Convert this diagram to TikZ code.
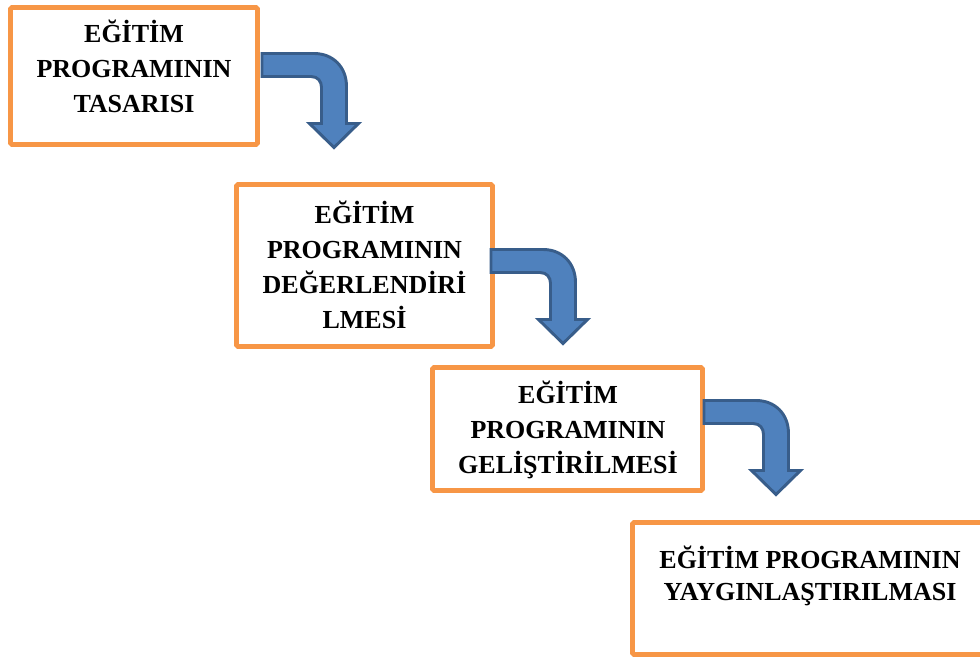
\documentclass[tikz,border=0pt]{standalone}
\usepackage{fontspec}
\setmainfont{Liberation Serif}
\definecolor{stageorange}{HTML}{F79646}
\definecolor{arrowblue}{HTML}{4F81BD}
\definecolor{arrowedge}{HTML}{385D8A}
\begin{document}
\begin{tikzpicture}[x=0.75pt,y=-0.75pt,
  stagebox/.style={draw=stageorange, line width=3.6pt, rounded corners=1.2pt,
    fill=white, inner sep=0pt},
  stagetext/.style={font=\bfseries\fontsize{19.5}{26.25}\selectfont,
    align=center, inner sep=0pt, anchor=base},
  turnarrow/.style={fill=arrowblue, draw=arrowedge, line width=2.2pt, line join=miter},
  bentarrow/.pic={
    \path[turnarrow] (0,0) -- (52,0)
      .. controls (71,0) and (84.5,13.5) .. (84.5,33)
      -- (84.5,70) -- (96.5,70) -- (72,94) -- (47.5,70) -- (59.5,70) -- (59.5,34)
      .. controls (59.5,28) and (56,23) .. (49,23) -- (0,23) -- cycle;
  }]
\clip (0,0) rectangle (980,659);
\fill[white] (0,0) rectangle (980,659);

% stage frames
\node[stagebox, minimum width=185.25pt, minimum height=102.75pt] (b1) at (134,76) {};
\node[stagebox, minimum width=192pt, minimum height=121.5pt] (b2) at (364.5,265.5) {};
\node[stagebox, minimum width=202.5pt, minimum height=92.25pt] (b3) at (567.5,429) {};
\node[stagebox, minimum width=267.4pt, minimum height=99pt] (b4) at (810.75,588.5) {};

% bent arrows between the stages
\pic (a1) at (262,53.5) {bentarrow};
\pic (a2) at (491,249.5) {bentarrow};
\pic (a3) at (704,400.5) {bentarrow};

% stage titles (base anchor sits on the last line)
\node[stagetext] (t1) at (134,113) {EĞİTİM\\PROGRAMININ\\TASARISI};
\node[stagetext] (t2) at (364.5,328) {EĞİTİM\\PROGRAMININ\\DEĞERLENDİRİ\\LMESİ};
\node[stagetext] (t3) at (568,473) {EĞİTİM\\PROGRAMININ\\GELİŞTİRİLMESİ};
\node[stagetext, font=\bfseries\fontsize{19.5}{24}\selectfont] (t4) at (810,600) {EĞİTİM PROGRAMININ\\YAYGINLAŞTIRILMASI};
\end{tikzpicture}
\end{document}
